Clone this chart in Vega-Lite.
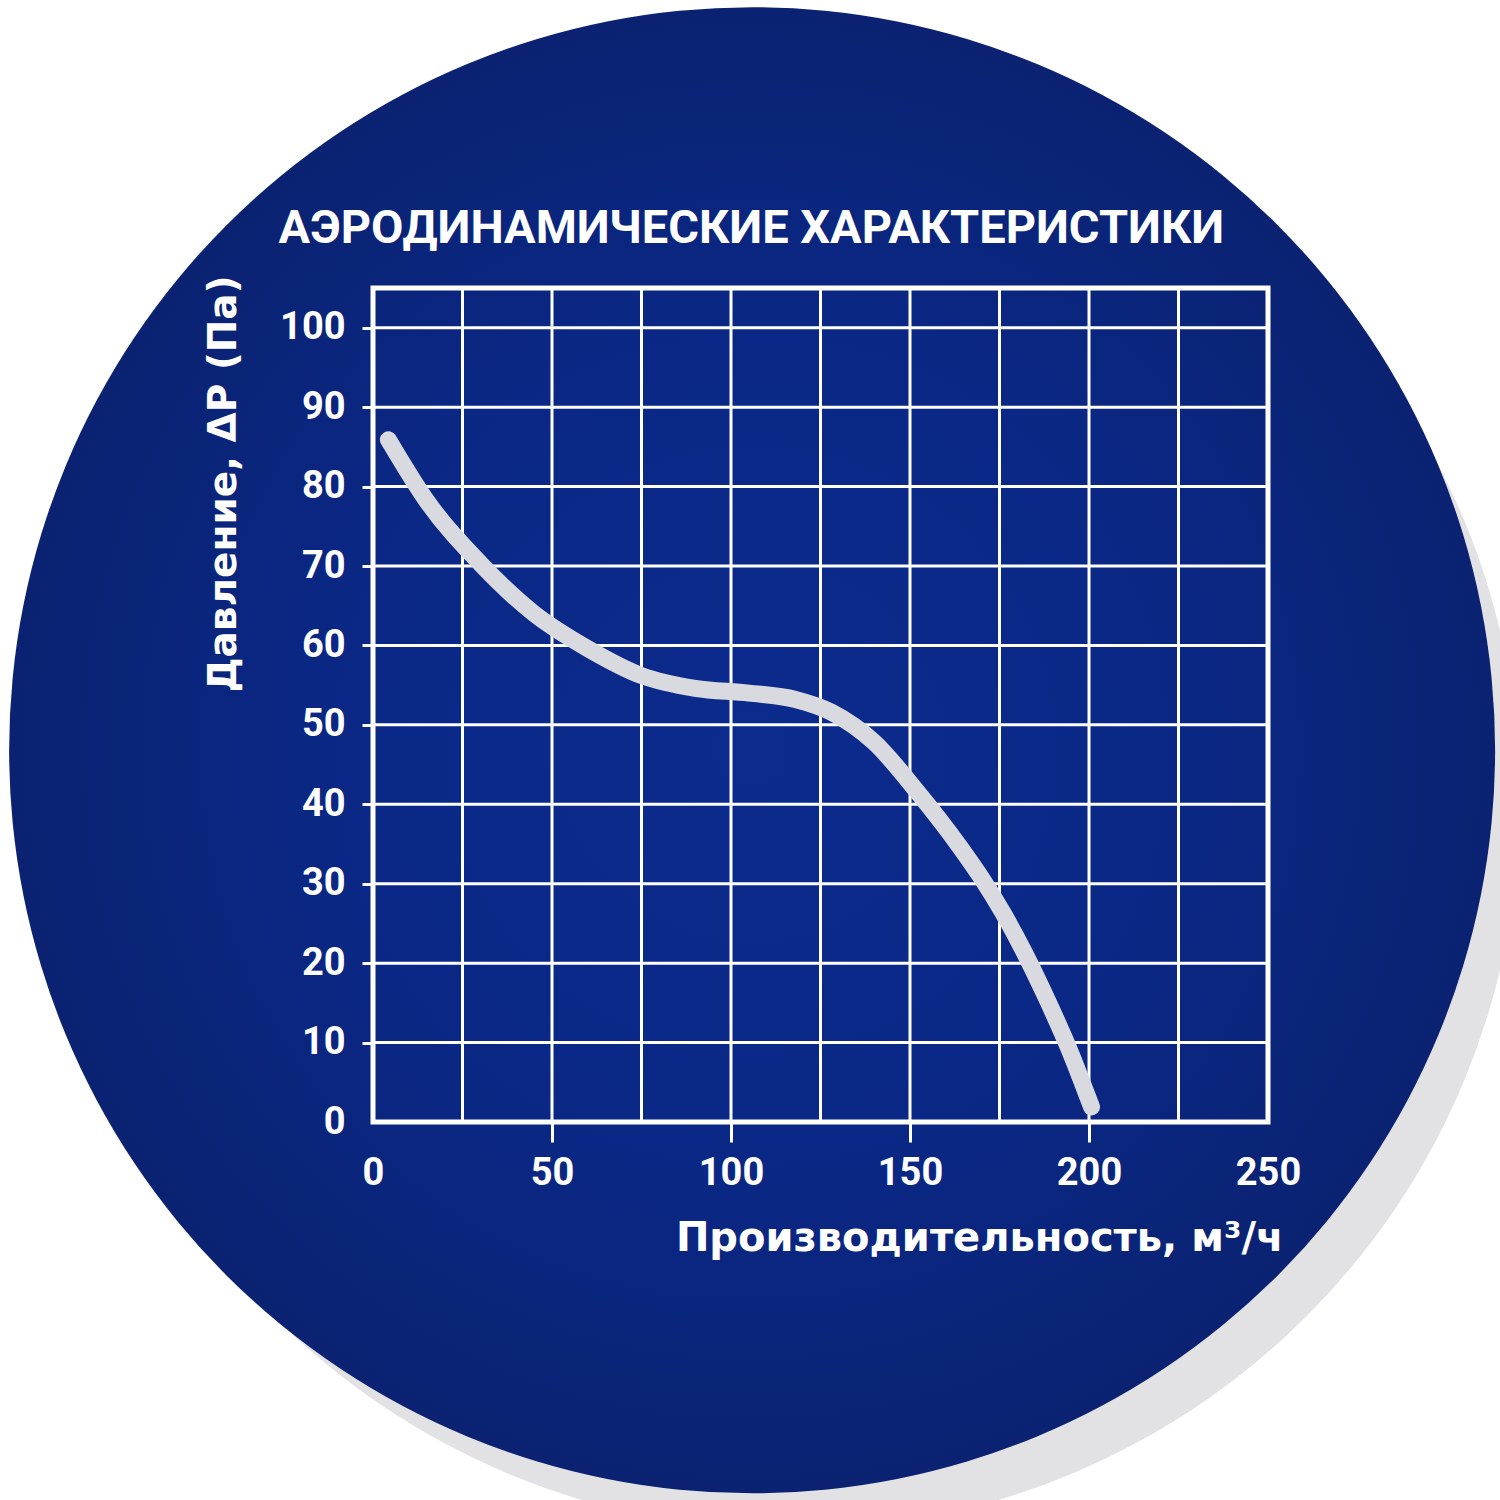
{
  "$schema": "https://vega.github.io/schema/vega-lite/v6.json",
  "width": 895,
  "height": 834,
  "autosize": {"type": "none"},
  "padding": {"left": 373, "top": 288, "right": 232, "bottom": 378},
  "background": "#ffffff",
  "config": {"view": {"stroke": null}},
  "datasets": {
    "curve": [
      {"flow": 4.3, "pressure": 85.9},
      {"flow": 15, "pressure": 78.2},
      {"flow": 30, "pressure": 70.3},
      {"flow": 45, "pressure": 64},
      {"flow": 60, "pressure": 59.6},
      {"flow": 75, "pressure": 56.2},
      {"flow": 90, "pressure": 54.6},
      {"flow": 105, "pressure": 54},
      {"flow": 118, "pressure": 53.2},
      {"flow": 128, "pressure": 51.6},
      {"flow": 140, "pressure": 47.8},
      {"flow": 152, "pressure": 41.6},
      {"flow": 164, "pressure": 34.6},
      {"flow": 170, "pressure": 30.7},
      {"flow": 176, "pressure": 26.3},
      {"flow": 182, "pressure": 21.3},
      {"flow": 188, "pressure": 15.7},
      {"flow": 194.5, "pressure": 9.1},
      {"flow": 200.7, "pressure": 1.9}
    ],
    "xgrid": [
      {"flow": 25}, {"flow": 50}, {"flow": 75}, {"flow": 100}, {"flow": 125},
      {"flow": 150}, {"flow": 175}, {"flow": 200}, {"flow": 225}
    ],
    "ygrid": [
      {"pressure": 10}, {"pressure": 20}, {"pressure": 30}, {"pressure": 40}, {"pressure": 50},
      {"pressure": 60}, {"pressure": 70}, {"pressure": 80}, {"pressure": 90}, {"pressure": 100}
    ]
  },
  "layer": [
    {
      "data": {"values": [{}]},
      "mark": {"type": "point", "shape": "circle", "filled": true, "size": 2131600, "color": "#e2e2e5", "opacity": 1},
      "encoding": {
        "x": {"datum": 116.5, "type": "quantitative", "scale": {"domain": [0, 250], "nice": false, "zero": false}},
        "y": {"datum": 40.5, "type": "quantitative", "scale": {"domain": [0, 105], "nice": false, "zero": false}}
      }
    },
    {
      "data": {"values": [{}]},
      "mark": {
        "type": "point", "shape": "circle", "filled": true, "size": 2208196, "opacity": 1,
        "fill": {"gradient": "radial", "x1": 0.5, "y1": 0.5, "r1": 0, "x2": 0.5, "y2": 0.5, "r2": 0.5,
          "stops": [{"offset": 0, "color": "#0b2b8d"}, {"offset": 0.6, "color": "#0a2784"}, {"offset": 1, "color": "#0a2271"}]}
      },
      "encoding": {
        "x": {"datum": 105.9, "type": "quantitative", "scale": {"domain": [0, 250], "nice": false, "zero": false}},
        "y": {"datum": 46.8, "type": "quantitative", "scale": {"domain": [0, 105], "nice": false, "zero": false}}
      }
    },
    {
      "data": {"values": [{}]},
      "mark": {"type": "text", "text": "АЭРОДИНАМИЧЕСКИЕ ХАРАКТЕРИСТИКИ", "font": "Roboto", "fontSize": 47, "fontWeight": "bold", "color": "#ffffff", "align": "center", "baseline": "alphabetic"},
      "encoding": {
        "x": {"datum": 105.7, "type": "quantitative", "scale": {"domain": [0, 250], "nice": false, "zero": false}},
        "y": {"datum": 110.66, "type": "quantitative", "scale": {"domain": [0, 105], "nice": false, "zero": false}}
      }
    },
    {
      "data": {"name": "xgrid"},
      "mark": {"type": "rule", "color": "#ffffff", "strokeWidth": 3},
      "encoding": {
        "x": {"field": "flow", "type": "quantitative", "scale": {"domain": [0, 250], "nice": false, "zero": false}}
      }
    },
    {
      "data": {"name": "ygrid"},
      "mark": {"type": "rule", "color": "#ffffff", "strokeWidth": 3},
      "encoding": {
        "y": {"field": "pressure", "type": "quantitative", "scale": {"domain": [0, 105], "nice": false, "zero": false}}
      }
    },
    {
      "data": {"values": [{}]},
      "mark": {"type": "rect", "filled": false, "color": "#ffffff", "strokeWidth": 5},
      "encoding": {
        "x": {"datum": 0, "type": "quantitative", "scale": {"domain": [0, 250], "nice": false, "zero": false}},
        "x2": {"datum": 250},
        "y": {"datum": 0, "type": "quantitative", "scale": {"domain": [0, 105], "nice": false, "zero": false}},
        "y2": {"datum": 105}
      }
    },
    {
      "data": {"name": "curve"},
      "mark": {"type": "line", "interpolate": "monotone", "color": "#d9dadf", "strokeWidth": 17, "strokeCap": "round", "strokeJoin": "round"},
      "encoding": {
        "x": {
          "field": "flow", "type": "quantitative",
          "scale": {"domain": [0, 250], "nice": false, "zero": false},
          "axis": {
            "title": "Производительность, м³/ч",
            "values": [0, 50, 100, 150, 200, 250],
            "grid": false, "domain": false, "zindex": 1,
            "tickSize": 20, "tickWidth": 3, "tickColor": "#ffffff",
            "tickOpacity": {"condition": {"test": "datum.value == 0 || datum.value == 250", "value": 0}, "value": 1},
            "labelFont": "Roboto", "labelFontSize": 38, "labelFontWeight": "bold", "labelColor": "#ffffff",
            "labelPadding": 12, "labelFlush": false, "labelOverlap": false,
            "titleFont": "DejaVu Sans", "titleFontSize": 40, "titleFontWeight": "bold", "titleColor": "#ffffff",
            "titleX": 910, "titleY": 128, "titleAlign": "right", "titleBaseline": "alphabetic"
          }
        },
        "y": {
          "field": "pressure", "type": "quantitative",
          "scale": {"domain": [0, 105], "nice": false, "zero": false},
          "axis": {
            "title": "Давление, ΔP (Па)",
            "values": [0, 10, 20, 30, 40, 50, 60, 70, 80, 90, 100],
            "grid": false, "domain": false, "zindex": 1,
            "tickSize": 11, "tickWidth": 3, "tickColor": "#ffffff",
            "tickOpacity": {"condition": {"test": "datum.value == 0", "value": 0}, "value": 1},
            "labelFont": "Roboto", "labelFontSize": 38, "labelFontWeight": "bold", "labelColor": "#ffffff",
            "labelPadding": 17, "labelFlush": false, "labelOverlap": false,
            "titleFont": "DejaVu Sans", "titleFontSize": 39, "titleFontWeight": "bold", "titleColor": "#ffffff",
            "titleAngle": -90, "titleX": -138, "titleY": -13, "titleAlign": "right", "titleBaseline": "alphabetic"
          }
        }
      }
    }
  ]
}
